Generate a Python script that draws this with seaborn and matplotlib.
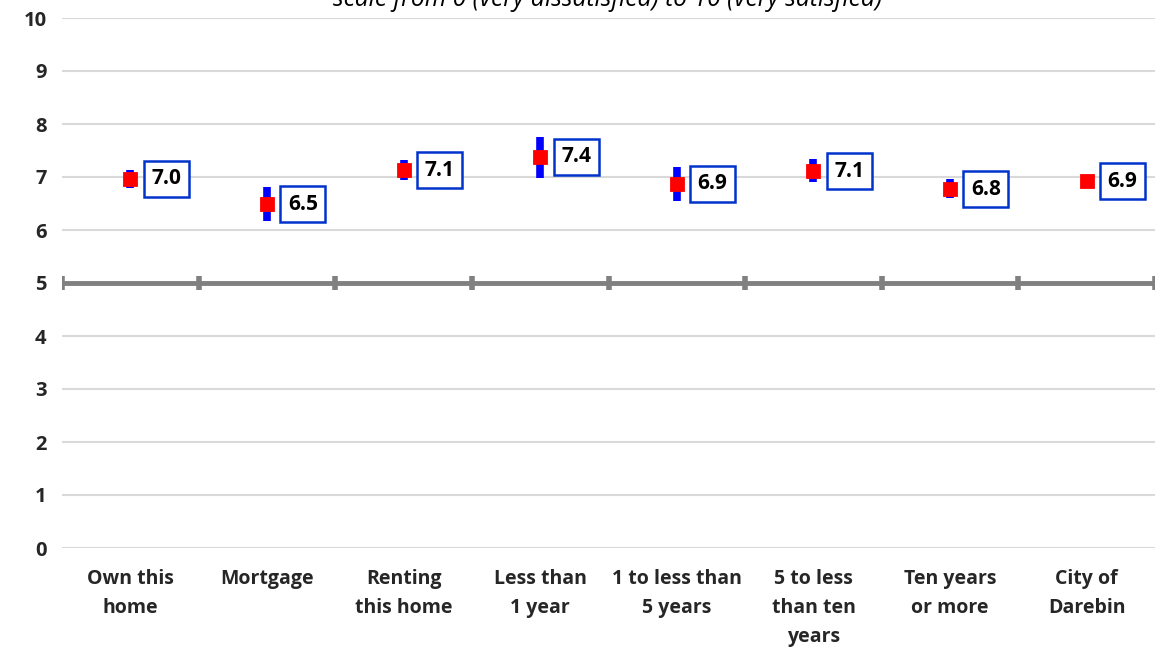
import numpy as np
import pandas as pd
import matplotlib.pyplot as plt
import seaborn as sns

categories = ["Own this\nhome", "Mortgage", "Renting\nthis home", "Less than\n1 year",
              "1 to less than\n5 years", "5 to less\nthan ten\nyears", "Ten years\nor more",
              "City of\nDarebin"]
means = [6.97, 6.49, 7.13, 7.38, 6.87, 7.11, 6.77, 6.92]
ci_low = [6.80, 6.17, 6.95, 6.99, 6.55, 6.90, 6.60, 6.87]
ci_high = [7.14, 6.81, 7.32, 7.76, 7.19, 7.34, 6.96, 6.97]
labels = ["7.0", "6.5", "7.1", "7.4", "6.9", "7.1", "6.8", "6.9"]
subtitle = "scale from 0 (very dissatisfied) to 10 (very satisfied)"

sns.set_theme(style="white")
plt.rcParams['font.family'] = ['Open Sans', 'DejaVu Sans']

df = pd.DataFrame({'group': categories, 'mean': means, 'lo': ci_low, 'hi': ci_high, 'label': labels})

fig = plt.figure(figsize=(11.63, 6.48), dpi=100)
ax = fig.add_axes([62 / 1163, 100 / 648, 1093 / 1163, 530 / 648])

# gridlines
for v in range(0, 11):
    if v != 5:
        ax.axhline(v, color="#d9d9d9", lw=1.5, zorder=0)

# the midpoint reference line with category boundary ticks
pos = np.arange(len(categories))
ax.axhline(5, color="#808080", lw=3.5, zorder=1)
ax.vlines(np.append(pos - 0.5, pos[-1] + 0.5), 4.86, 5.14, color="#808080", lw=4, zorder=1)

# confidence intervals
ax.vlines(pos, df['lo'], df['hi'], color="#0000ff", lw=5.5, zorder=3)

sns.pointplot(data=df, x='group', y='mean', order=categories, errorbar=None,
              linestyle='none', marker='s', markersize=8, color="#ff0000", ax=ax, zorder=4)

for i, row in df.iterrows():
    ax.annotate(row['label'], (i, row['mean']), xytext=(15, 0), textcoords='offset points',
                ha='left', va='center', fontsize=15, fontweight='bold', color='black',
                bbox=dict(boxstyle='square,pad=0.36', fc='white', ec='#0033cc', lw=1.8), zorder=5)

ax.set_xlim(-0.5, len(categories) - 0.5)
ax.set_ylim(0, 10)
ax.set_yticks(range(0, 11))
ax.set_yticklabels([str(v) for v in range(0, 11)], fontsize=14.5, fontweight='bold')
ax.set_xticks(pos)
ax.set_xticklabels(categories, fontsize=14, fontweight='bold', linespacing=1.6)
ax.tick_params(axis='y', length=0, pad=11)
ax.tick_params(axis='x', length=0, pad=15)
ax.set_xlabel('')
ax.set_ylabel('')
sns.despine(ax=ax, left=True, bottom=True)

fig.text(608 / 1163, 1.0, subtitle, ha='center', va='center', fontsize=17.7, style='italic', color='black')

fig.savefig("out.png", dpi=100)
